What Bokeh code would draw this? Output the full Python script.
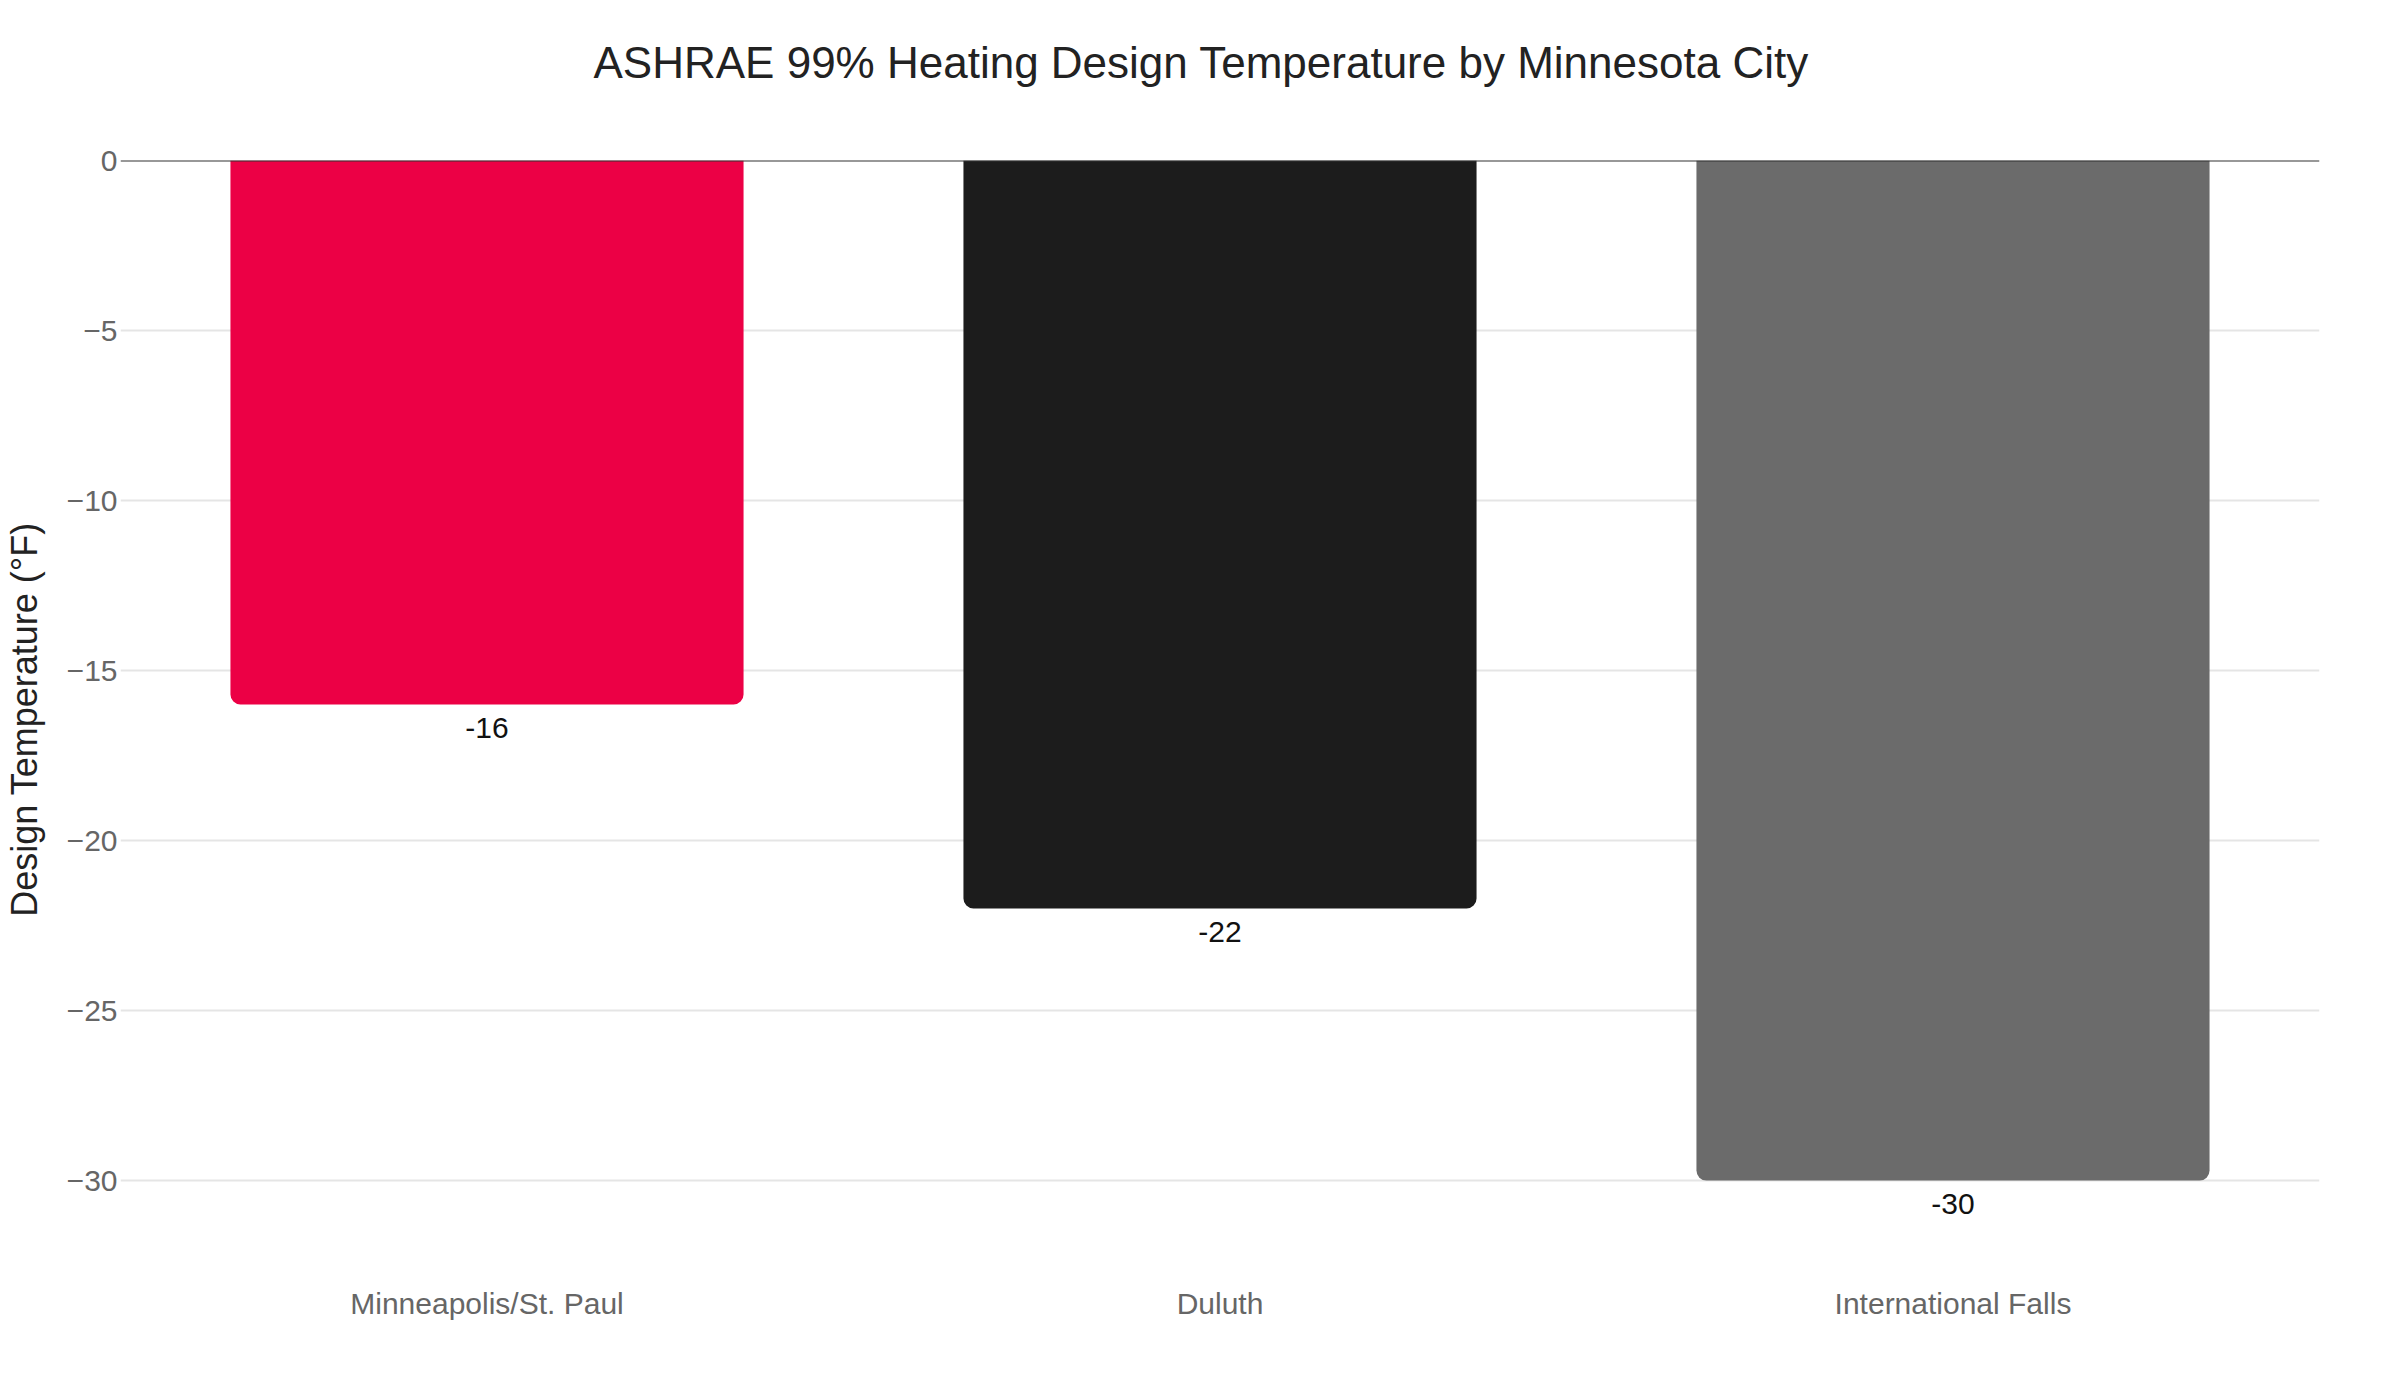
from bokeh.plotting import figure
from bokeh.models import ColumnDataSource, Range1d, FactorRange, Span, FixedTicker, Title
from bokeh.core.properties import value
from bokeh.embed import file_html
from bokeh.resources import INLINE

cities = ["Minneapolis/St. Paul", "Duluth", "International Falls"]
temps = [-16, -22, -30]
colors = ["#EC0045", "#1C1C1C", "#6B6B6B"]
labels = ["-16", "-22", "-30"]
y_ticks = [0, -5, -10, -15, -20, -25, -30]
y_tick_labels = ["0", "\u22125", "\u221210", "\u221215", "\u221220", "\u221225", "\u221230"]
title_text = "ASHRAE 99% Heating Design Temperature by Minnesota City"

FONT = "Liberation Sans"

src = ColumnDataSource(dict(city=cities, temp=temps, color=colors, label=labels,
                            zero=[0] * len(cities)))

p = figure(x_range=FactorRange(*cities, range_padding=0), y_range=Range1d(-32.88, 0),
           width=2392, height=1392, output_backend="svg", toolbar_location=None,
           title=None,
           min_border_left=120, min_border_right=73, min_border_bottom=114, min_border_top=160)

# spacer panel between frame and title
spacer = Title(text=" ", text_font_size="10px", standoff=61, text_color="#FFFFFF")
p.add_layout(spacer, "above")
main_title = Title(text=title_text, align="left", offset=473, standoff=0,
                   text_font=FONT, text_font_size="44px", text_font_style="normal",
                   text_color="#222222")
p.add_layout(main_title, "above")

p.vbar(x="city", top="zero", bottom="temp", width=0.7, source=src,
       fill_color="color", line_color=None, border_radius=(0, 0, 10, 10))

p.text(x="city", y="temp", text="label", source=src, text_align="center",
       text_baseline="top", y_offset=13, text_font=value(FONT),
       text_font_size="30px", text_color="#111111")

zero_line = Span(location=0, dimension="width", line_color="#333333", line_width=2)
p.add_layout(zero_line)

p.outline_line_color = None
p.xgrid.grid_line_color = None
p.ygrid.grid_line_color = "#E5E5E5"
p.ygrid.grid_line_width = 2
p.ygrid.ticker = FixedTicker(ticks=y_ticks)

p.yaxis.ticker = FixedTicker(ticks=y_ticks)
p.yaxis.major_label_overrides = dict(zip(y_ticks, y_tick_labels))
p.yaxis.axis_label = "Design Temperature (\u00b0F)"
p.yaxis.axis_label_text_font = FONT
p.yaxis.axis_label_text_font_size = "36px"
p.yaxis.axis_label_text_font_style = "normal"
p.yaxis.axis_label_text_color = "#222222"
p.yaxis.axis_label_standoff = 19
p.yaxis.major_label_standoff = 3

for ax in (p.xaxis, p.yaxis):
    ax.axis_line_color = None
    ax.major_tick_line_color = None
    ax.minor_tick_line_color = None
    ax.major_tick_out = 0
    ax.major_tick_in = 0
    ax.major_label_text_font = FONT
    ax.major_label_text_font_size = "30px"
    ax.major_label_text_color = "#666666"

p.xaxis.major_label_standoff = 8

open("out.html", "w").write(file_html(p, INLINE))
